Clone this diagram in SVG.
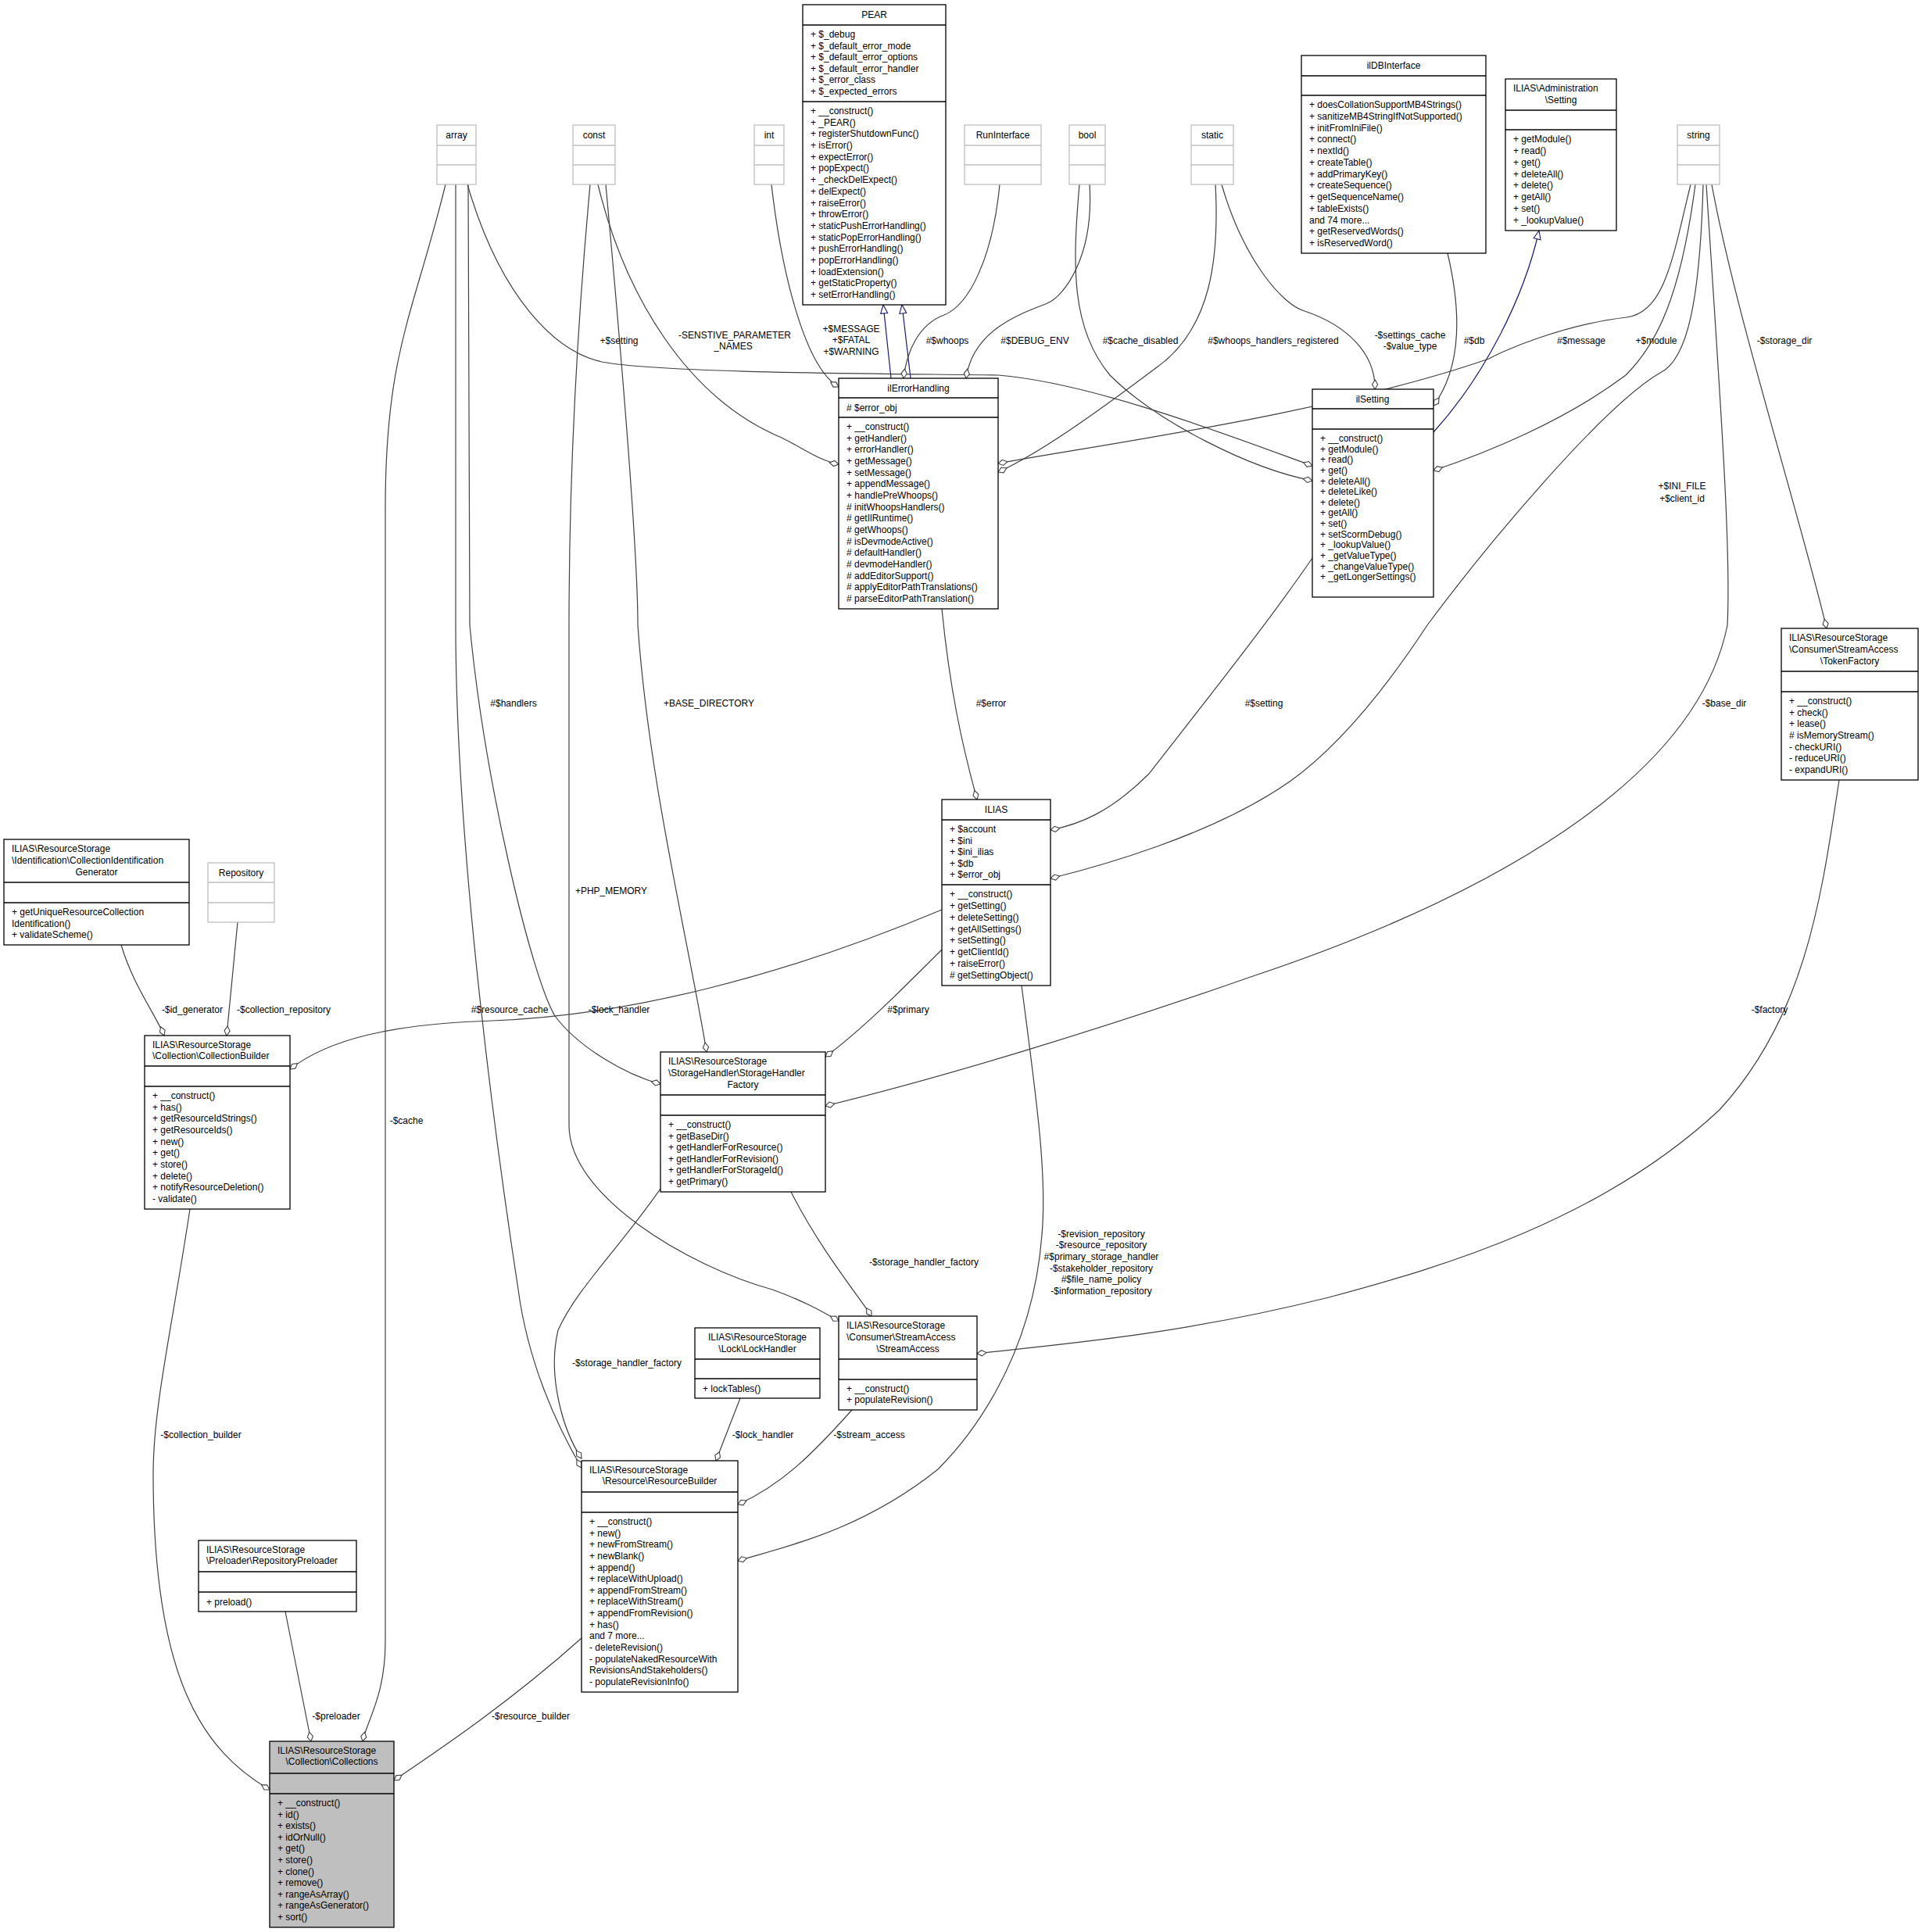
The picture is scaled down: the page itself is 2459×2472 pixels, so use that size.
<svg xmlns="http://www.w3.org/2000/svg" width="2459" height="2472" viewBox="0 0 2459 2472">
<style>
text{font-family:"Liberation Sans",Arial,sans-serif;font-size:12px;fill:#000}
.c{text-anchor:middle}
.b{fill:#fff;stroke:#000;stroke-width:1.3}
.g{fill:#fff;stroke:#bfbfbf;stroke-width:1.3}
.s{fill:#bfbfbf;stroke:#000;stroke-width:1.3}
.ln{stroke:#000;stroke-width:1.3}
.lg{stroke:#bfbfbf;stroke-width:1.3}
.e{fill:none;stroke:#404040;stroke-width:1.2;marker-end:url(#dia)}
.gen{fill:none;stroke:#191970;stroke-width:1.2;marker-end:url(#tri)}
</style>
<defs>
<marker id="dia" viewBox="-13 -5 14 10" refX="0" refY="0" markerWidth="14" markerHeight="10" markerUnits="userSpaceOnUse" orient="auto"><path d="M0,0 L-6,-3.6 L-12,0 L-6,3.6 Z" fill="#fff" stroke="#404040" stroke-width="1.1"/></marker>
<marker id="tri" viewBox="-13 -6 14 12" refX="0" refY="0" markerWidth="14" markerHeight="12" markerUnits="userSpaceOnUse" orient="auto"><path d="M0,0 L-11,-4.5 L-11,4.5 Z" fill="#fff" stroke="#191970" stroke-width="1.1"/></marker>
</defs>
<rect width="2459" height="2472" fill="#fff"/>
<g id="edges">
<path class="gen" d="M1140,484 L1130,390"/>
<path class="gen" d="M1165,484 L1154,390"/>
<path class="gen" d="M1834,553 C1900,480 1950,380 1969,295"/>
<path class="e" d="M598,236 C640,380 710,450 770,463 C850,478 1150,478 1277,480 C1400,490 1580,560 1679,596"/>
<path class="e" d="M570,236 C530,400 493,450 493,650 L493,2100 C493,2170 470,2200 464,2228"/>
<path class="e" d="M583,236 L583,800 C583,1100 640,1500 663,1650 C675,1740 710,1820 744,1878"/>
<path class="e" d="M599,236 L601,800 C620,1000 680,1250 710,1300 C740,1340 800,1375 845,1387"/>
<path class="e" d="M765,236 C800,380 880,510 1000,560 C1030,575 1050,590 1073,594"/>
<path class="e" d="M775,236 C790,400 816,700 816,800 C830,1000 880,1200 904,1346"/>
<path class="e" d="M755,236 C740,400 728,600 728,800 L728,1440 C728,1530 880,1620 988,1650 C1030,1665 1055,1680 1073,1690"/>
<path class="e" d="M987,236 C1000,350 1030,470 1073,495"/>
<path class="e" d="M1279,236 C1270,330 1240,390 1208,403 C1175,415 1160,450 1156,484"/>
<path class="e" d="M1394,236 C1400,330 1360,380 1340,388 C1310,400 1245,420 1236,484"/>
<path class="e" d="M1381,236 C1372,340 1370,420 1420,480 C1480,540 1600,600 1679,615"/>
<path class="e" d="M1555,236 C1560,330 1550,420 1480,470 C1400,530 1330,580 1277,604"/>
<path class="e" d="M1563,236 C1590,330 1640,390 1669,398 C1720,415 1760,450 1759,498"/>
<path class="e" d="M1852,324 C1870,400 1870,470 1834,519"/>
<path class="e" d="M2163,236 C2140,330 2130,400 2081,406 C2000,415 1920,450 1905,459 C1700,530 1400,570 1277,593"/>
<path class="e" d="M2169,236 C2150,380 2120,440 2080,480 C2000,540 1900,580 1834,602"/>
<path class="e" d="M2179,236 C2175,380 2160,460 2124,477 C2050,520 1900,700 1826,800 C1780,870 1720,950 1650,1000 C1550,1070 1400,1110 1344,1124"/>
<path class="e" d="M2183,236 C2200,500 2215,700 2210,800 C2170,1000 1900,1150 1600,1250 C1400,1320 1200,1380 1056,1415"/>
<path class="e" d="M2190,236 C2220,400 2300,650 2337,804"/>
<path class="e" d="M1205,779 C1215,880 1230,950 1250,1023"/>
<path class="e" d="M1679,714 C1620,800 1540,900 1470,990 C1420,1040 1380,1055 1344,1062"/>
<path class="e" d="M1205,1164 C1000,1250 800,1300 630,1306 C500,1310 420,1330 371,1368"/>
<path class="e" d="M1205,1215 C1150,1270 1100,1320 1056,1352"/>
<path class="e" d="M1307,1261 C1325,1400 1340,1500 1333,1580 C1320,1750 1230,1850 1200,1880 C1100,1960 1000,1980 944,1997"/>
<path class="e" d="M155,1209 C170,1260 200,1300 210,1325"/>
<path class="e" d="M304,1180 L290,1325"/>
<path class="e" d="M243,1547 C220,1700 196,1800 196,1886 C196,2150 260,2240 345,2290"/>
<path class="e" d="M1012,1525 C1050,1600 1100,1660 1115,1684"/>
<path class="e" d="M845,1521 C790,1600 737,1650 714,1702 C700,1760 720,1830 744,1866"/>
<path class="e" d="M2353,998 C2330,1150 2310,1300 2200,1420 C2050,1560 1850,1620 1700,1660 C1500,1710 1350,1720 1250,1732"/>
<path class="e" d="M947,1789 L916,1869"/>
<path class="e" d="M1090,1804 C1040,1860 1000,1900 944,1925"/>
<path class="e" d="M365,2062 L398,2228"/>
<path class="e" d="M744,2096 C650,2180 560,2240 504,2278"/>
</g>
<g id="labels" class="c">
<text class="c" x="792" y="440">+$setting</text>
<text class="c" x="940" y="433">-SENSTIVE_PARAMETER</text>
<text class="c" x="938" y="447">_NAMES</text>
<text class="c" x="1089" y="425">+$MESSAGE</text>
<text class="c" x="1089" y="439">+$FATAL</text>
<text class="c" x="1089" y="454">+$WARNING</text>
<text class="c" x="1212" y="440">#$whoops</text>
<text class="c" x="1324" y="440">#$DEBUG_ENV</text>
<text class="c" x="1459" y="440">#$cache_disabled</text>
<text class="c" x="1629" y="440">#$whoops_handlers_registered</text>
<text class="c" x="1804" y="433">-$settings_cache</text>
<text class="c" x="1804" y="447">-$value_type</text>
<text class="c" x="1886" y="440">#$db</text>
<text class="c" x="2023" y="440">#$message</text>
<text class="c" x="2119" y="440">+$module</text>
<text class="c" x="2283" y="440">-$storage_dir</text>
<text class="c" x="2152" y="626">+$INI_FILE</text>
<text class="c" x="2152" y="642">+$client_id</text>
<text class="c" x="657" y="904">#$handlers</text>
<text class="c" x="907" y="904">+BASE_DIRECTORY</text>
<text class="c" x="1268" y="904">#$error</text>
<text class="c" x="1617" y="904">#$setting</text>
<text class="c" x="2206" y="904">-$base_dir</text>
<text class="c" x="782" y="1144">+PHP_MEMORY</text>
<text class="c" x="246" y="1296">-$id_generator</text>
<text class="c" x="363" y="1296">-$collection_repository</text>
<text class="c" x="652" y="1296">#$resource_cache</text>
<text class="c" x="792" y="1296">-$lock_handler</text>
<text class="c" x="1162" y="1296">#$primary</text>
<text class="c" x="2264" y="1296">-$factory</text>
<text class="c" x="520" y="1438">-$cache</text>
<text class="c" x="1409" y="1583">-$revision_repository</text>
<text class="c" x="1409" y="1597">-$resource_repository</text>
<text class="c" x="1409" y="1612">#$primary_storage_handler</text>
<text class="c" x="1409" y="1627">-$stakeholder_repository</text>
<text class="c" x="1409" y="1641">#$file_name_policy</text>
<text class="c" x="1409" y="1656">-$information_repository</text>
<text class="c" x="1182" y="1619">-$storage_handler_factory</text>
<text class="c" x="802" y="1748">-$storage_handler_factory</text>
<text class="c" x="257" y="1840">-$collection_builder</text>
<text class="c" x="976" y="1840">-$lock_handler</text>
<text class="c" x="1112" y="1840">-$stream_access</text>
<text class="c" x="430" y="2200">-$preloader</text>
<text class="c" x="679" y="2200">-$resource_builder</text>
</g>
<g id="PEAR">
<rect class="b" x="1027" y="6" width="183" height="384"/>
<line class="ln" x1="1027" y1="32" x2="1210" y2="32"/><line class="ln" x1="1027" y1="130" x2="1210" y2="130"/>
<text class="c" x="1118.5" y="23">PEAR</text>
<text x="1037" y="48"><tspan x="1037">+ $_debug</tspan><tspan x="1037" dy="14.6">+ $_default_error_mode</tspan><tspan x="1037" dy="14.6">+ $_default_error_options</tspan><tspan x="1037" dy="14.6">+ $_default_error_handler</tspan><tspan x="1037" dy="14.6">+ $_error_class</tspan><tspan x="1037" dy="14.6">+ $_expected_errors</tspan></text>
<text x="1037" y="146"><tspan x="1037">+ __construct()</tspan><tspan x="1037" dy="14.69">+ _PEAR()</tspan><tspan x="1037" dy="14.69">+ registerShutdownFunc()</tspan><tspan x="1037" dy="14.69">+ isError()</tspan><tspan x="1037" dy="14.69">+ expectError()</tspan><tspan x="1037" dy="14.69">+ popExpect()</tspan><tspan x="1037" dy="14.69">+ _checkDelExpect()</tspan><tspan x="1037" dy="14.69">+ delExpect()</tspan><tspan x="1037" dy="14.69">+ raiseError()</tspan><tspan x="1037" dy="14.69">+ throwError()</tspan><tspan x="1037" dy="14.69">+ staticPushErrorHandling()</tspan><tspan x="1037" dy="14.69">+ staticPopErrorHandling()</tspan><tspan x="1037" dy="14.69">+ pushErrorHandling()</tspan><tspan x="1037" dy="14.69">+ popErrorHandling()</tspan><tspan x="1037" dy="14.69">+ loadExtension()</tspan><tspan x="1037" dy="14.69">+ getStaticProperty()</tspan><tspan x="1037" dy="14.69">+ setErrorHandling()</tspan></text>
</g>
<g id="array"><rect class="g" x="559" y="160" width="50" height="76"/><line class="lg" x1="559" y1="186" x2="609" y2="186"/><line class="lg" x1="559" y1="211" x2="609" y2="211"/><text class="c" x="584" y="177">array</text></g>
<g id="const"><rect class="g" x="733" y="160" width="54" height="76"/><line class="lg" x1="733" y1="186" x2="787" y2="186"/><line class="lg" x1="733" y1="211" x2="787" y2="211"/><text class="c" x="760" y="177">const</text></g>
<g id="int"><rect class="g" x="965" y="160" width="38" height="76"/><line class="lg" x1="965" y1="186" x2="1003" y2="186"/><line class="lg" x1="965" y1="211" x2="1003" y2="211"/><text class="c" x="984" y="177">int</text></g>
<g id="RunInterface"><rect class="g" x="1234" y="160" width="98" height="76"/><line class="lg" x1="1234" y1="186" x2="1332" y2="186"/><line class="lg" x1="1234" y1="211" x2="1332" y2="211"/><text class="c" x="1283" y="177">RunInterface</text></g>
<g id="bool"><rect class="g" x="1368" y="160" width="46" height="76"/><line class="lg" x1="1368" y1="186" x2="1414" y2="186"/><line class="lg" x1="1368" y1="211" x2="1414" y2="211"/><text class="c" x="1391" y="177">bool</text></g>
<g id="static"><rect class="g" x="1524" y="160" width="54" height="76"/><line class="lg" x1="1524" y1="186" x2="1578" y2="186"/><line class="lg" x1="1524" y1="211" x2="1578" y2="211"/><text class="c" x="1551" y="177">static</text></g>
<g id="string"><rect class="g" x="2146" y="160" width="54" height="76"/><line class="lg" x1="2146" y1="186" x2="2200" y2="186"/><line class="lg" x1="2146" y1="211" x2="2200" y2="211"/><text class="c" x="2173" y="177">string</text></g>
<g id="ilDBInterface">
<rect class="b" x="1665" y="71" width="236" height="253"/>
<line class="ln" x1="1665" y1="97" x2="1901" y2="97"/><line class="ln" x1="1665" y1="122" x2="1901" y2="122"/>
<text class="c" x="1783" y="88">ilDBInterface</text>
<text x="1675" y="138"><tspan x="1675">+ doesCollationSupportMB4Strings()</tspan><tspan x="1675" dy="14.75">+ sanitizeMB4StringIfNotSupported()</tspan><tspan x="1675" dy="14.75">+ initFromIniFile()</tspan><tspan x="1675" dy="14.75">+ connect()</tspan><tspan x="1675" dy="14.75">+ nextId()</tspan><tspan x="1675" dy="14.75">+ createTable()</tspan><tspan x="1675" dy="14.75">+ addPrimaryKey()</tspan><tspan x="1675" dy="14.75">+ createSequence()</tspan><tspan x="1675" dy="14.75">+ getSequenceName()</tspan><tspan x="1675" dy="14.75">+ tableExists()</tspan><tspan x="1675" dy="14.75">and 74 more...</tspan><tspan x="1675" dy="14.75">+ getReservedWords()</tspan><tspan x="1675" dy="14.75">+ isReservedWord()</tspan></text>
</g>
<g id="AdministrationSetting">
<rect class="b" x="1926" y="101" width="142" height="194"/>
<line class="ln" x1="1926" y1="141" x2="2068" y2="141"/><line class="ln" x1="1926" y1="166" x2="2068" y2="166"/>
<text x="1936" y="117">ILIAS\Administration</text>
<text class="c" x="1997" y="132">\Setting</text>
<text x="1936" y="182"><tspan x="1936">+ getModule()</tspan><tspan x="1936" dy="14.86">+ read()</tspan><tspan x="1936" dy="14.86">+ get()</tspan><tspan x="1936" dy="14.86">+ deleteAll()</tspan><tspan x="1936" dy="14.86">+ delete()</tspan><tspan x="1936" dy="14.86">+ getAll()</tspan><tspan x="1936" dy="14.86">+ set()</tspan><tspan x="1936" dy="14.86">+ _lookupValue()</tspan></text>
</g>
<g id="ilErrorHandling">
<rect class="b" x="1073" y="484" width="204" height="295"/>
<line class="ln" x1="1073" y1="509" x2="1277" y2="509"/><line class="ln" x1="1073" y1="534" x2="1277" y2="534"/>
<text class="c" x="1175" y="501">ilErrorHandling</text>
<text x="1083" y="525.5"># $error_obj</text>
<text x="1083" y="550"><tspan x="1083">+ __construct()</tspan><tspan x="1083" dy="14.67">+ getHandler()</tspan><tspan x="1083" dy="14.67">+ errorHandler()</tspan><tspan x="1083" dy="14.67">+ getMessage()</tspan><tspan x="1083" dy="14.67">+ setMessage()</tspan><tspan x="1083" dy="14.67">+ appendMessage()</tspan><tspan x="1083" dy="14.67">+ handlePreWhoops()</tspan><tspan x="1083" dy="14.67"># initWhoopsHandlers()</tspan><tspan x="1083" dy="14.67"># getIlRuntime()</tspan><tspan x="1083" dy="14.67"># getWhoops()</tspan><tspan x="1083" dy="14.67"># isDevmodeActive()</tspan><tspan x="1083" dy="14.67"># defaultHandler()</tspan><tspan x="1083" dy="14.67"># devmodeHandler()</tspan><tspan x="1083" dy="14.67"># addEditorSupport()</tspan><tspan x="1083" dy="14.67"># applyEditorPathTranslations()</tspan><tspan x="1083" dy="14.67"># parseEditorPathTranslation()</tspan></text>
</g>
<g id="ilSetting">
<rect class="b" x="1679" y="498" width="155" height="266"/>
<line class="ln" x1="1679" y1="523" x2="1834" y2="523"/><line class="ln" x1="1679" y1="549" x2="1834" y2="549"/>
<text class="c" x="1756" y="514.5">ilSetting</text>
<text x="1689" y="565"><tspan x="1689">+ __construct()</tspan><tspan x="1689" dy="13.64">+ getModule()</tspan><tspan x="1689" dy="13.64">+ read()</tspan><tspan x="1689" dy="13.64">+ get()</tspan><tspan x="1689" dy="13.64">+ deleteAll()</tspan><tspan x="1689" dy="13.64">+ deleteLike()</tspan><tspan x="1689" dy="13.64">+ delete()</tspan><tspan x="1689" dy="13.64">+ getAll()</tspan><tspan x="1689" dy="13.64">+ set()</tspan><tspan x="1689" dy="13.64">+ setScormDebug()</tspan><tspan x="1689" dy="13.64">+ _lookupValue()</tspan><tspan x="1689" dy="13.64">+ _getValueType()</tspan><tspan x="1689" dy="13.64">+ _changeValueType()</tspan><tspan x="1689" dy="13.64">+ _getLongerSettings()</tspan></text>
</g>
<g id="ILIAS">
<rect class="b" x="1205" y="1023" width="139" height="238"/>
<line class="ln" x1="1205" y1="1049" x2="1344" y2="1049"/><line class="ln" x1="1205" y1="1132" x2="1344" y2="1132"/>
<text class="c" x="1274.5" y="1040">ILIAS</text>
<text x="1215" y="1065"><tspan x="1215">+ $account</tspan><tspan x="1215" dy="14.5">+ $ini</tspan><tspan x="1215" dy="14.5">+ $ini_ilias</tspan><tspan x="1215" dy="14.5">+ $db</tspan><tspan x="1215" dy="14.5">+ $error_obj</tspan></text>
<text x="1215" y="1148"><tspan x="1215">+ __construct()</tspan><tspan x="1215" dy="14.86">+ getSetting()</tspan><tspan x="1215" dy="14.86">+ deleteSetting()</tspan><tspan x="1215" dy="14.86">+ getAllSettings()</tspan><tspan x="1215" dy="14.86">+ setSetting()</tspan><tspan x="1215" dy="14.86">+ getClientId()</tspan><tspan x="1215" dy="14.86">+ raiseError()</tspan><tspan x="1215" dy="14.86"># getSettingObject()</tspan></text>
</g>
<g id="TokenFactory">
<rect class="b" x="2279" y="804" width="175" height="194"/>
<line class="ln" x1="2279" y1="859" x2="2454" y2="859"/><line class="ln" x1="2279" y1="885" x2="2454" y2="885"/>
<text x="2289" y="820">ILIAS\ResourceStorage</text>
<text x="2289" y="835">\Consumer\StreamAccess</text>
<text class="c" x="2366.5" y="850">\TokenFactory</text>
<text x="2289" y="901"><tspan x="2289">+ __construct()</tspan><tspan x="2289" dy="14.67">+ check()</tspan><tspan x="2289" dy="14.67">+ lease()</tspan><tspan x="2289" dy="14.67"># isMemoryStream()</tspan><tspan x="2289" dy="14.67">- checkURI()</tspan><tspan x="2289" dy="14.67">- reduceURI()</tspan><tspan x="2289" dy="14.67">- expandURI()</tspan></text>
</g>
<g id="CollectionIdentificationGenerator">
<rect class="b" x="5" y="1074" width="237" height="135"/>
<line class="ln" x1="5" y1="1129" x2="242" y2="1129"/><line class="ln" x1="5" y1="1155" x2="242" y2="1155"/>
<text x="15" y="1090">ILIAS\ResourceStorage</text>
<text x="15" y="1105">\Identification\CollectionIdentification</text>
<text class="c" x="123.5" y="1120">Generator</text>
<text x="15" y="1171"><tspan x="15">+ getUniqueResourceCollection</tspan><tspan x="15" dy="14.5">Identification()</tspan><tspan x="15" dy="14.5">+ validateScheme()</tspan></text>
</g>
<g id="Repository"><rect class="g" x="266" y="1104" width="85" height="76"/><line class="lg" x1="266" y1="1129" x2="351" y2="1129"/><line class="lg" x1="266" y1="1155" x2="351" y2="1155"/><text class="c" x="308.5" y="1120.5">Repository</text></g>
<g id="CollectionBuilder">
<rect class="b" x="185" y="1325" width="186" height="222"/>
<line class="ln" x1="185" y1="1364" x2="371" y2="1364"/><line class="ln" x1="185" y1="1390" x2="371" y2="1390"/>
<text x="195" y="1341">ILIAS\ResourceStorage</text>
<text x="195" y="1355">\Collection\CollectionBuilder</text>
<text x="195" y="1406"><tspan x="195">+ __construct()</tspan><tspan x="195" dy="14.67">+ has()</tspan><tspan x="195" dy="14.67">+ getResourceIdStrings()</tspan><tspan x="195" dy="14.67">+ getResourceIds()</tspan><tspan x="195" dy="14.67">+ new()</tspan><tspan x="195" dy="14.67">+ get()</tspan><tspan x="195" dy="14.67">+ store()</tspan><tspan x="195" dy="14.67">+ delete()</tspan><tspan x="195" dy="14.67">+ notifyResourceDeletion()</tspan><tspan x="195" dy="14.67">- validate()</tspan></text>
</g>
<g id="StorageHandlerFactory">
<rect class="b" x="845" y="1346" width="211" height="179"/>
<line class="ln" x1="845" y1="1401" x2="1056" y2="1401"/><line class="ln" x1="845" y1="1427" x2="1056" y2="1427"/>
<text x="855" y="1362">ILIAS\ResourceStorage</text>
<text x="855" y="1377">\StorageHandler\StorageHandler</text>
<text class="c" x="950.5" y="1392">Factory</text>
<text x="855" y="1443"><tspan x="855">+ __construct()</tspan><tspan x="855" dy="14.6">+ getBaseDir()</tspan><tspan x="855" dy="14.6">+ getHandlerForResource()</tspan><tspan x="855" dy="14.6">+ getHandlerForRevision()</tspan><tspan x="855" dy="14.6">+ getHandlerForStorageId()</tspan><tspan x="855" dy="14.6">+ getPrimary()</tspan></text>
</g>
<g id="LockHandler">
<rect class="b" x="889" y="1699" width="160" height="90"/>
<line class="ln" x1="889" y1="1739" x2="1049" y2="1739"/><line class="ln" x1="889" y1="1764" x2="1049" y2="1764"/>
<text class="c" x="969" y="1715">ILIAS\ResourceStorage</text>
<text class="c" x="969" y="1730">\Lock\LockHandler</text>
<text x="899" y="1780.5">+ lockTables()</text>
</g>
<g id="StreamAccess">
<rect class="b" x="1073" y="1684" width="177" height="120"/>
<line class="ln" x1="1073" y1="1739" x2="1250" y2="1739"/><line class="ln" x1="1073" y1="1765" x2="1250" y2="1765"/>
<text x="1083" y="1700">ILIAS\ResourceStorage</text>
<text x="1083" y="1715">\Consumer\StreamAccess</text>
<text class="c" x="1161.5" y="1730">\StreamAccess</text>
<text x="1083" y="1781">+ __construct()</text>
<text x="1083" y="1795">+ populateRevision()</text>
</g>
<g id="ResourceBuilder">
<rect class="b" x="744" y="1869" width="200" height="296"/>
<line class="ln" x1="744" y1="1909" x2="944" y2="1909"/><line class="ln" x1="744" y1="1935" x2="944" y2="1935"/>
<text x="754" y="1885">ILIAS\ResourceStorage</text>
<text class="c" x="844" y="1899">\Resource\ResourceBuilder</text>
<text x="754" y="1951"><tspan x="754">+ __construct()</tspan><tspan x="754" dy="14.64">+ new()</tspan><tspan x="754" dy="14.64">+ newFromStream()</tspan><tspan x="754" dy="14.64">+ newBlank()</tspan><tspan x="754" dy="14.64">+ append()</tspan><tspan x="754" dy="14.64">+ replaceWithUpload()</tspan><tspan x="754" dy="14.64">+ appendFromStream()</tspan><tspan x="754" dy="14.64">+ replaceWithStream()</tspan><tspan x="754" dy="14.64">+ appendFromRevision()</tspan><tspan x="754" dy="14.64">+ has()</tspan><tspan x="754" dy="14.64">and 7 more...</tspan><tspan x="754" dy="14.64">- deleteRevision()</tspan><tspan x="754" dy="14.64">- populateNakedResourceWith</tspan><tspan x="754" dy="14.64">RevisionsAndStakeholders()</tspan><tspan x="754" dy="14.64">- populateRevisionInfo()</tspan></text>
</g>
<g id="RepositoryPreloader">
<rect class="b" x="254" y="1971" width="202" height="91"/>
<line class="ln" x1="254" y1="2011" x2="456" y2="2011"/><line class="ln" x1="254" y1="2037" x2="456" y2="2037"/>
<text x="264" y="1987">ILIAS\ResourceStorage</text>
<text x="264" y="2001">\Preloader\RepositoryPreloader</text>
<text x="264" y="2053.5">+ preload()</text>
</g>
<g id="Collections">
<rect class="s" x="345" y="2228" width="159" height="238"/>
<line class="ln" x1="345" y1="2269" x2="504" y2="2269"/><line class="ln" x1="345" y1="2295" x2="504" y2="2295"/>
<text x="355" y="2244">ILIAS\ResourceStorage</text>
<text class="c" x="424.5" y="2258">\Collection\Collections</text>
<text x="355" y="2311"><tspan x="355">+ __construct()</tspan><tspan x="355" dy="14.6">+ id()</tspan><tspan x="355" dy="14.6">+ exists()</tspan><tspan x="355" dy="14.6">+ idOrNull()</tspan><tspan x="355" dy="14.6">+ get()</tspan><tspan x="355" dy="14.6">+ store()</tspan><tspan x="355" dy="14.6">+ clone()</tspan><tspan x="355" dy="14.6">+ remove()</tspan><tspan x="355" dy="14.6">+ rangeAsArray()</tspan><tspan x="355" dy="14.6">+ rangeAsGenerator()</tspan><tspan x="355" dy="14.6">+ sort()</tspan></text>
</g>
</svg>
